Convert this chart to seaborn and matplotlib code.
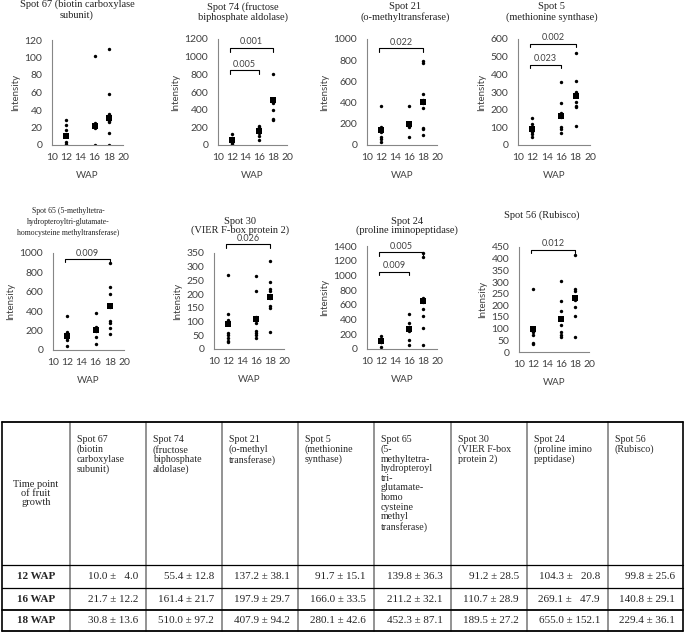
import numpy as np
import pandas as pd
import matplotlib.pyplot as plt
import seaborn as sns

# ========================= Datos =========================
semanas = [12, 16, 18]

titulos = [
    "Spot 67 (biotin carboxylase\nsubunit)",
    "Spot 74 (fructose\nbiphosphate aldolase)",
    "Spot 21\n(o-methyltransferase)",
    "Spot 5\n(methionine synthase)",
    "Spot 65 (5-methyltetra-\nhydropteroyltri-glutamate-\nhomocysteine methyltransferase)",
    "Spot 30\n(VIER F-box protein 2)",
    "Spot 24\n(proline iminopeptidase)",
    "Spot 56 (Rubisco)",
]

# valores individuales por semana: [12 WAP, 16 WAP, 18 WAP]
spot67 = [[29, 23, 17, 11, 4, 1], [102, 25, 23, 21, 20, 0], [110, 58, 35, 32, 28, 26, 14, 0]]
spot74 = [[130, 80, 60, 40, 20, 10], [220, 200, 180, 160, 140, 100, 60], [800, 520, 500, 480, 400, 300, 280]]
spot21 = [[370, 170, 150, 130, 120, 80, 60, 30], [370, 200, 190, 180, 170, 75],
          [790, 770, 480, 420, 410, 400, 350, 165, 155, 90]]
spot5 = [[155, 120, 100, 90, 85, 75, 60, 45], [355, 240, 180, 170, 160, 100, 90, 70],
         [520, 360, 300, 290, 280, 245, 220, 215, 105]]
spot65 = [[355, 190, 160, 140, 130, 120, 100, 40], [380, 240, 220, 210, 200, 130, 60],
          [900, 650, 580, 450, 445, 300, 280, 230, 170]]
spot30 = [[270, 128, 105, 90, 60, 50, 40, 30, 25], [265, 210, 115, 110, 95, 65, 60, 50, 40],
          [320, 245, 220, 210, 195, 185, 155, 150, 62]]
spot24 = [[180, 120, 100, 90, 30], [470, 350, 300, 280, 260, 250, 120, 50],
          [1300, 1250, 690, 660, 640, 540, 450, 280, 60]]
spot56 = [[270, 105, 100, 95, 90, 85, 75, 40, 35], [305, 220, 175, 145, 140, 115, 85, 75, 65],
          [415, 270, 260, 235, 230, 225, 195, 155, 65]]
puntos = [spot67, spot74, spot21, spot5, spot65, spot30, spot24, spot56]

# medias y desviaciones (tabla)
media_12 = [10.0, 55.4, 137.2, 91.7, 139.8, 91.2, 104.3, 99.8]
media_16 = [21.7, 161.4, 197.9, 166.0, 211.2, 110.7, 269.1, 140.8]
media_18 = [30.8, 510.0, 407.9, 280.1, 452.3, 189.5, 655.0, 229.4]
de_12 = [4.0, 12.8, 38.1, 15.1, 36.3, 28.5, 20.8, 25.6]
de_16 = [12.2, 21.7, 29.7, 33.5, 32.1, 28.9, 47.9, 29.1]
de_18 = [13.6, 97.2, 94.2, 42.6, 87.1, 27.2, 152.1, 36.1]

y_max = [120, 1200, 1000, 600, 1000, 350, 1400, 450]
y_paso = [20, 200, 200, 100, 200, 50, 200, 50]

# comparaciones significativas: (semana final, altura, p)
comparaciones = [
    [],
    [(18, 1100, "0.001"), (16, 850, "0.005")],
    [(18, 915, "0.022")],
    [(18, 574, "0.002"), (16, 455, "0.023")],
    [(18, 938, "0.009")],
    [(18, 381, "0.026")],
    [(18, 1319, "0.005"), (16, 1052, "0.009")],
    [(18, 438, "0.012")],
]

encabezados = [
    "Time point\nof fruit\ngrowth",
    "Spot 67\n(biotin\ncarboxylase\nsubunit)",
    "Spot 74\n(fructose\nbiphosphate\naldolase)",
    "Spot 21\n(o-methyl\ntransferase)",
    "Spot 5\n(methionine\nsynthase)",
    "Spot 65\n(5-\nmethyltetra-\nhydropteroyl\ntri-\nglutamate-\nhomo\ncysteine\nmethyl\ntransferase)",
    "Spot 30\n(VIER F-box\nprotein 2)",
    "Spot 24\n(proline imino\npeptidase)",
    "Spot 56\n(Rubisco)",
]
filas = ["12 WAP", "16 WAP", "18 WAP"]

# ========================= DataFrame largo =========================
registros = []
for i, spot in enumerate(puntos):
    for sem, vals in zip(semanas, spot):
        for v in vals:
            registros.append({"spot": i, "WAP": sem, "Intensity": v})
df = pd.DataFrame(registros)

medias = pd.DataFrame({
    "spot": np.repeat(np.arange(8), 3),
    "WAP": semanas * 8,
    "Intensity": [m for trio in zip(media_12, media_16, media_18) for m in trio],
})

# ========================= Figura =========================
sns.set_style("white")
plt.rcParams['font.family'] = ['Lato', 'DejaVu Sans']
SERIF = ['Liberation Serif', 'DejaVu Serif']
GRIS = '#868686'
TEXTO = '#404040'

W, H = 685, 632
fig = plt.figure(figsize=(W / 100, H / 100), dpi=100)

fondo = fig.add_axes([0, 0, 1, 1])
fondo.set_xlim(0, W)
fondo.set_ylim(H, 0)
fondo.axis('off')

# cajas de los ejes en píxeles (izq, arriba, der, abajo)
cajas = [(52, 40, 123, 145), (218, 39, 287, 145), (367, 39, 437, 145), (518, 39, 590, 145),
         (53, 253, 124, 350), (214, 253, 284, 349), (367, 246, 437, 349), (519, 247, 589, 352)]
pos_titulos = [(77, 10), (243, 12), (405, 12), (552, 12), (68, 222), (240, 226), (407, 226), (542, 215)]
tam_titulos = [7.5, 7.5, 7.5, 7.5, 5.6, 7.5, 7.5, 7.5]
esp_titulos = [1.15, 1.15, 1.15, 1.15, 1.45, 1.05, 1.05, 1.15]

for i in range(8):
    l, t, r, b = cajas[i]
    ax = fig.add_axes([l / W, 1 - b / H, (r - l) / W, (b - t) / H])
    sns.scatterplot(data=df[df.spot == i], x="WAP", y="Intensity", ax=ax, color='black',
                    s=6, marker='o', linewidth=0, legend=False)
    sns.scatterplot(data=medias[medias.spot == i], x="WAP", y="Intensity", ax=ax, color='black',
                    s=16, marker='s', linewidth=0, legend=False)
    ax.set_xlim(10, 20)
    ax.set_ylim(0, y_max[i])
    ax.set_xticks(range(10, 21, 2))
    ax.set_yticks(np.arange(0, y_max[i] + 1, y_paso[i]))
    for lado in ['top', 'right']:
        ax.spines[lado].set_visible(False)
    for lado in ['left', 'bottom']:
        ax.spines[lado].set_color(GRIS)
        ax.spines[lado].set_linewidth(0.8)
    ax.tick_params(axis='both', direction='out', length=3, width=0.8, color=GRIS,
                   labelsize=7.5, labelcolor=TEXTO, pad=2.5)
    ax.tick_params(axis='y', pad=4)
    ax.set_ylabel("Intensity", fontsize=7, color=TEXTO, labelpad=3)
    ax.set_xlabel("WAP", fontsize=7, color=TEXTO, labelpad=7)

    # corchetes de significación
    alto = y_max[i] * 0.035
    for x_fin, h, p in comparaciones[i]:
        ax.plot([11.7, 11.7, x_fin, x_fin], [h - alto, h, h, h - alto], color='black',
                lw=0.8, clip_on=False)
        ax.annotate(p, ((11.7 + x_fin) / 2, h), xytext=(0, 1), textcoords='offset points',
                    ha='center', va='bottom', fontsize=6.5, color=TEXTO, annotation_clip=False)

    fondo.text(pos_titulos[i][0], pos_titulos[i][1], titulos[i], ha='center', va='center',
               family=SERIF, fontsize=tam_titulos[i], linespacing=esp_titulos[i], color='#222222')

# ========================= Tabla =========================
col_x = [2, 70, 146, 222, 298, 374, 451, 527, 608, 683]
fila_y = [422, 565, 588, 610, 631]


def celda(m, s, ancho):
    txt_s = f"{s:.1f}"
    hueco = ancho - len(txt_s)
    return f"{m:.1f} ± " + "  " * hueco + txt_s


for j in range(1, len(col_x) - 1):
    fondo.plot([col_x[j], col_x[j]], [fila_y[0], fila_y[-1]], color='#8a8a8a', lw=1.3)
fondo.plot([col_x[0], col_x[0]], [fila_y[0], fila_y[-1]], color='black', lw=1.2)
fondo.plot([col_x[-1], col_x[-1]], [fila_y[0], fila_y[-1]], color='black', lw=1.2)
for k, y in enumerate(fila_y):
    grosor = 1.3 if k in (0, 3, 4) else 0.9
    fondo.plot([col_x[0], col_x[-1]], [y, y], color='black', lw=grosor)

fondo.text((col_x[0] + col_x[1]) / 2, (fila_y[0] + fila_y[1]) / 2, encabezados[0], ha='center',
           va='center', multialignment='center', family=SERIF, fontsize=7.5, linespacing=1.05)
for j in range(1, 9):
    fondo.text(col_x[j] + 7, 435, encabezados[j], ha='left', va='top', family=SERIF,
               fontsize=7.2, linespacing=1.08)

for k, (nombre, med, de) in enumerate(zip(filas, [media_12, media_16, media_18],
                                          [de_12, de_16, de_18])):
    yc = (fila_y[k + 1] + fila_y[k + 2]) / 2
    fondo.text((col_x[0] + col_x[1]) / 2, yc, nombre, ha='center', va='center', family=SERIF,
               fontsize=8, fontweight='bold')
    for j in range(8):
        ancho = max(len(f"{d[j]:.1f}") for d in [de_12, de_16, de_18])
        fondo.text(col_x[j + 2] - 8, yc, celda(med[j], de[j], ancho), ha='right', va='center',
                   family=SERIF, fontsize=8)

fig.savefig("out.png", dpi=100)
